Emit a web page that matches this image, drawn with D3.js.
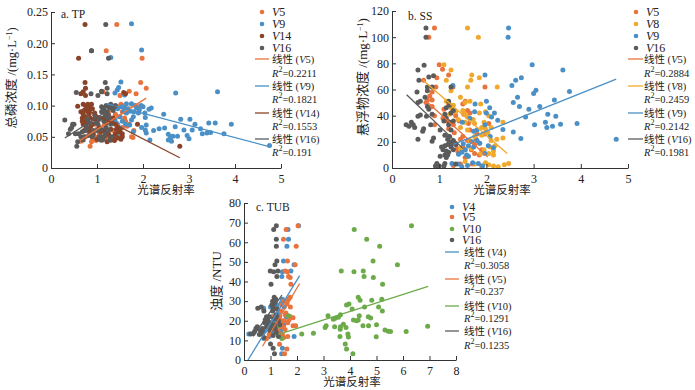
<!DOCTYPE html>
<html>
<head>
<meta charset="utf-8">
<script src="https://cdn.jsdelivr.net/npm/d3@7"></script>
<style>
  body { margin: 0; background: #fff; }
  text { font-family: "Liberation Serif", "Noto Sans CJK SC", serif; fill: #222; }
</style>
</head>
<body>
<div id="drawing_region"></div>
<script>
// panel a: TP
const tpV5 = [[1.43,.23],[1.2,.188],[1.98,.176],[1.95,.137],[2.07,.128],[1.7,.123],[1.85,.119],[1.13,.122],[1.5,.116],[.85,.035],[1.9,.098],[1.75,.102],[1.6,.1],[1.45,.098],[1.55,.09],[1.4,.086],[1.3,.08],[1.25,.075],[1.6,.08],[1.7,.07],[1.45,.07],[1.55,.065],[1.35,.06],[1.2,.06],[1.05,.055],[.95,.05],[.9,.047],[.85,.055],[.75,.05],[.65,.043],[1.0,.062],[1.1,.045],[1.18,.048],[1.3,.045],[1.4,.048],[1.5,.052],[1.75,.05],[1.65,.067],[1.8,.06],[.8,.06],[.95,.07],[1.15,.08],[1.35,.095],[1.25,.09],[1.78,.049],[1.62,.075],[1.48,.082],[.98,.044],[.88,.042],[1.03,.05],[1.15,.068],[1.52,.102]];
const tpV9 = [[1.75,.231],[1.97,.189],[1.3,.177],[1.52,.138],[1.47,.129],[1.44,.125],[1.39,.12],[1.6,.117],[2.71,.12],[3.62,.122],[2.45,.086],[2.82,.078],[3.02,.078],[3.13,.07],[3.25,.063],[3.43,.072],[3.57,.072],[3.92,.07],[3.76,.055],[4.75,.036],[2.89,.061],[3.07,.061],[3.29,.055],[3.39,.056],[3.47,.057],[2.23,.06],[2.35,.063],[2.47,.064],[2.7,.066],[2.55,.054],[2.6,.05],[2.55,.045],[2.62,.043],[2.65,.051],[2.75,.051],[2.96,.052],[3,.047],[2.15,.045],[2.07,.056],[1.97,.065],[2.05,.061],[2.07,.069],[2.18,.096],[2.13,.094],[2,.098],[2.04,.088],[2.05,.081],[1.9,.088],[1.75,.103],[1.64,.103],[1.86,.096],[1.79,.082],[1.79,.058],[1.71,.069],[1.75,.077],[1.46,.05],[1.5,.064],[1.5,.082],[1.53,.098],[1.64,.088],[1.39,.077],[1.57,.09],[1.42,.072],[1.8,.09],[1.68,.095],[1.45,.095],[1.83,.1],[1.72,.091],[1.92,.093],[1.6,.096],[1.55,.075],[1.62,.07],[1.48,.058],[1.96,.1]];
const tpV14 = [[.74,.23],[.6,.176],[.88,.188],[.74,.137],[.75,.128],[.7,.122],[.65,.119],[.75,.116],[1.1,.122],[1.58,.121],[1.62,.119],[.58,.099],[.7,.102],[.75,.1],[.8,.102],[.85,.098],[.65,.09],[.72,.092],[.8,.09],[.9,.095],[.95,.088],[.68,.08],[.75,.082],[.85,.08],[.7,.07],[.78,.072],[.9,.07],[1,.075],[.72,.06],[.82,.06],[1.05,.065],[1.35,.08],[1.4,.07],[1.45,.065],[1.3,.062],[1.5,.06],[1.55,.055],[1.4,.055],[1.25,.055],[1.35,.05],[1.45,.048],[1.55,.05],[1.3,.045],[1.22,.042],[1.1,.05],[1,.046],[1.88,.07],[2.8,.035],[1.15,.06],[1.2,.072],[.92,.055],[.98,.082],[.78,.096],[.84,.093],[.88,.102],[.7,.086],[.77,.076],[.83,.087],[.93,.078],[.68,.075],[.76,.066],[.86,.066],[1.08,.058],[1.28,.05],[1.38,.044],[1.48,.058],[1.42,.062],[1.33,.072],[1.18,.052],[1.52,.046]];
const tpV16 = [[1.19,.23],[.88,.188],[1.25,.176],[1.18,.137],[.55,.121],[.87,.119],[1.22,.128],[1.1,.123],[1.22,.119],[1.02,.116],[.3,.077],[.38,.055],[.42,.062],[.45,.065],[.47,.07],[.5,.07],[.53,.055],[.56,.035],[.58,.042],[.6,.055],[.65,.05],[.7,.045],[.72,.05],[.75,.06],[.78,.065],[.8,.078],[.85,.072],[.88,.055],[.9,.05],[.92,.06],[.95,.085],[1,.06],[1.02,.07],[1.05,.05],[1.08,.045],[1.1,.09],[1.1,.098],[1.12,.08],[1.15,.075],[1.15,.095],[1.18,.055],[1.2,.065],[1.2,.1],[1.22,.09],[1.25,.085],[1.25,.098],[1.28,.1],[1.3,.102],[1.3,.07],[1.32,.05],[1.35,.092],[1.38,.098],[1.4,.1],[1.12,.045],[1.28,.045],[1.18,.086],[1.13,.092],[1.05,.078],[.98,.072],[1.08,.062],[.82,.052],[.68,.058],[1.24,.06],[1.15,.05],[1.32,.096],[1.27,.078],[1.2,.08]];

// panel b: SS
const ssV5 = [[.9,107],[.78,100],[1,79],[1.07,75.5],[1.2,71],[.67,67],[.95,69],[.93,62],[1.29,62],[1.97,62],[.85,58],[.8,55],[.85,52],[.75,52],[.72,50],[.85,47],[1.1,45],[1.25,42],[.9,40],[1.35,40],[1.5,49],[1.55,51],[1.6,44],[1.65,42],[.9,33],[1.2,30],[1.3,33],[1.5,24],[1.65,29],[1.8,26],[2.05,34],[1.97,26],[1.2,24],[1.35,19],[1.5,16],[1.6,21],[1.75,18],[1.9,14],[1.85,10],[1.4,12],[1.55,8],[1.75,11],[1.3,2],[1.45,3],[1.7,3],[1.9,1.5],[1.55,14],[1.08,38],[1.18,36],[1.42,36],[1.32,27],[1.45,22],[1.68,14],[1.6,9],[1.38,15],[1.78,22],[1.62,34],[1.52,41],[1.2,49]];
const ssV8 = [[1.6,107],[1.83,100],[1.1,79],[1.25,75],[1.69,71],[1.85,69],[1.67,67],[1.15,67],[1.6,62],[2.23,62],[1.25,59],[1.15,51],[1.45,54],[1.55,50],[1.65,51],[1.88,49],[1.25,46],[1.35,43],[1.55,41],[1.6,39],[1.85,42],[1.98,43],[2.05,40],[1.4,37],[1.55,35],[1.75,34],[1.95,35],[2.1,31],[2.35,35],[1.8,29],[2.03,27],[2.35,23],[1.9,25],[2.1,21],[1.65,21],[1.75,24],[2.15,13],[2.15,10],[2.05,11],[1.85,19],[1.95,14],[1.98,4],[2.05,2.5],[2.15,1.5],[2.25,1],[2.38,2.5],[2.47,3.5],[1.75,3],[1.55,5],[1.45,15],[1.3,48],[1.22,41],[1.45,31],[1.6,29],[1.72,37],[1.98,30],[2.08,16],[2.18,17],[1.88,11],[1.68,15],[1.9,31],[2.22,22],[1.5,44]];
const ssV9 = [[2.47,107],[2.46,100],[2.97,79],[3.62,75],[2.74,69],[2.62,67],[2.54,63],[1.97,71],[1.29,63],[3.05,59.5],[3,57],[3.76,58.5],[2.66,54],[2.57,50],[2.7,47],[2.9,45],[2.83,39],[3.13,47],[3.44,52],[3.3,41],[3.47,39.5],[3.02,33],[3.25,35],[3.28,31],[3.4,32],[3.57,33.5],[3.92,34],[4.75,22],[2.73,22.5],[2.57,27.5],[2.35,29.5],[2.24,36.5],[2.17,42],[2.11,39],[2,42],[2.07,46],[2,51],[1.76,49],[1.75,43],[1.65,38],[1.49,35],[1.97,33],[2.08,24],[2.15,15.5],[2.04,17],[1.97,11],[1.8,21],[1.69,20],[1.73,16],[1.62,9],[1.51,18.5],[1.41,10.5],[1.48,12],[1.27,3.5],[1.4,3],[1.71,4],[1.83,3.5],[1.92,1.5],[1.6,2],[1.48,1],[1.73,28],[1.8,29],[1.86,19],[1.58,10],[1.55,14],[1.62,17]];
const ssV16 = [[.72,107],[.72,100],[.68,78.5],[.55,75],[.57,67],[.78,69.5],[.88,70.5],[.85,62],[.75,62],[.75,59],[.53,58],[.7,54],[.55,50],[.6,51],[.75,47],[.78,45],[.6,40.5],[.55,39.5],[.73,39.5],[.85,41],[.3,33],[.36,32],[.41,35],[.45,33],[.48,31],[.65,28],[.67,30],[.82,33],[.55,22],[.85,20.5],[.88,23],[1.02,29],[1.1,36],[1.12,41],[1.15,38],[1.15,46],[1.2,51],[1.22,48],[1.25,42],[1.3,44],[1.22,35],[1.3,36],[1.25,29],[1.12,25],[1.18,22],[1.22,24],[1.3,21],[1.35,18],[1.05,16],[1.12,17],[1.18,18],[1.25,16],[1.3,14],[1.02,9],[1.12,10],[1.2,12],[1.15,13],[.92,1.5],[.95,3.5],[1,1.5],[1.1,1.5],[1.12,3.5],[1.35,3],[1.08,14],[1.15,8],[1.28,19],[1.2,33],[1.25,62],[1.18,10],[1.22,20]];

// panel c: TUB
const tubV4 = [[2.06,68.4],[1.66,66.5],[1.68,61.5],[1.62,58],[1.49,50.5],[1.89,48.5],[1.77,45.3],[1.45,45],[1.43,42.5],[1.89,12],[.18,13.3],[.74,26.4],[1.0,27],[1.45,31],[1.4,29],[1.3,24],[1.05,22],[1.15,20],[1.35,19],[.95,17],[.8,15],[.75,11],[.95,12],[1.1,14],[1.2,16],[1.5,18],[1.45,6],[1.42,3.2],[1.3,13],[1.6,22],[1.25,28],[1.08,18],[1.38,15],[.88,20],[1.52,27]];
const tubV5 = [[2.04,68.4],[1.59,66.5],[1.49,61.5],[1.97,58],[1.64,50.5],[1.93,48.5],[1.55,45.3],[1.64,45],[1.68,42.5],[1.74,42],[1.77,38.6],[1.34,8],[1.62,5.6],[1.53,3.2],[1.74,32],[1.68,31],[1.5,30],[1.62,28.5],[1.75,27],[1.2,26],[1.4,25],[1.55,23],[1.75,22],[1.85,21.5],[1.3,21],[1.45,20],[1.65,19],[1.85,17.5],[1.95,17.5],[1.2,18],[1.4,17],[1.55,15.5],[1.3,14],[1.45,13],[1.65,12],[1.5,11.5],[.95,13],[1.08,16],[.85,11],[1.58,24],[1.35,22],[1.48,17],[1.62,29.5],[1.38,19],[1.25,15],[1.52,20],[1.7,20.5],[1.12,22],[1.42,28]];
const tubV10 = [[6.32,68.4],[4.16,66.5],[4.63,61.5],[5.12,58],[4.87,50.5],[5.79,48.5],[3.67,45.3],[4.15,45],[4.5,45.3],[4.53,42.5],[4.88,42],[5.23,38.6],[4.31,32],[4.38,30.5],[4.82,30.5],[5.2,31],[3.96,28.5],[3.87,28],[4.55,27],[5.08,27],[5.22,25],[4.08,26],[3.17,22.5],[3.37,20.8],[3.44,21.3],[3.56,21.8],[3.64,23],[4.13,20.4],[4.25,20],[4.31,20.4],[4.35,22.5],[4.69,22],[4.78,21.4],[3.1,17.4],[3.06,16.5],[3.42,16.9],[3.64,17],[3.75,18.2],[3.63,15.7],[3.85,16.5],[4.49,17.4],[4.7,17.5],[5,17.9],[6.93,17.2],[5.32,15.3],[5.44,14.6],[5.53,14.5],[6.12,14.5],[2.62,13.6],[2.18,13.3],[3.92,13.3],[3.62,12],[3.94,11.7],[4.99,11.9],[3.82,8.2],[3.87,5.6],[4.11,3.2],[1.43,11],[1.3,17.5],[1.68,22.6]];
const tubV16 = [[1.22,68.4],[1.12,66.5],[1.22,61.5],[1.22,58],[1.24,50.5],[1.17,48.5],[.99,45.3],[1.12,45],[1.28,45.3],[1.24,42.5],[1.02,38.6],[1.14,32],[1.2,31],[1.08,30],[1.15,29],[1.05,28],[.52,26.4],[.65,27],[.75,25],[.25,13.3],[.35,13.5],[.4,14.5],[.45,16],[.5,17],[.62,15],[.68,13.5],[.72,14],[.85,22],[.9,20],[.92,18],[1,19],[1.05,17],[1.12,21],[1.2,23],[1.25,22],[1.3,20],[1.35,18],[1.18,16],[1.02,15.5],[.85,17],[.78,19],[.75,11.5],[1.1,12.5],[1.3,12],[1,8.2],[1.1,6],[1.15,3.2],[1.25,26],[.95,22],[1.08,25],[.8,20.5],[.98,15],[1.15,18],[1.22,14],[.7,16],[.58,13],[1.1,27]];

// trend lines
const tpLines = [[[.65,.045],[2.07,.112]],[[1.2,.103],[4.76,.034]],[[.7,.096],[2.8,.0165]],[[.3,.048],[1.4,.1]]];
const ssLines = [[[.7,52],[2.03,8.4]],[[.66,67],[2.44,11]],[[1.3,18],[4.75,68]],[[.31,56],[1.5,15]]];
const tubLines = [[[.15,0],[2.1,43]],[[.7,7],[2.1,39]],[[1.3,13],[6.95,37.5]],[[.34,12],[1.43,33]]];

const tpNames = ["5","9","14","16"];
const ssNames = ["5","8","9","16"];
const tubNames = ["4","5","10","16"];
const tpR2 = ["0.2211","0.1821","0.1553","0.191"];
const ssR2 = ["0.2884","0.2459","0.2142","0.1981"];
const tubR2 = ["0.3058","0.237","0.1291","0.1235"];

const tpTicksY = [0,.05,.1,.15,.2,.25];
const ssTicksY = [0,20,40,60,80,100,120];
const tubTicksY = [0,10,20,30,40,50,60,70,80];
const ticks5 = [0,1,2,3,4,5];
const ticks8 = [0,1,2,3,4,5,6,7,8];

const orange = "#e8733c", blue = "#4a90c6", brown = "#8a4328", gray = "#5b5b5b", amber = "#f0a92c", green = "#6dab4a";

const svg = d3.select("#drawing_region").append("svg")
    .attr("width", 695)
    .attr("height", 390);

function drawPanel(cfg) {
    const xscale = d3.scaleLinear().domain(cfg.xdomain).range([cfg.x0, cfg.x1]);
    const yscale = d3.scaleLinear().domain(cfg.ydomain).range([cfg.y0, cfg.y1]);

    const g = svg.append("g");

    // dots first, trend lines over them
    cfg.series.forEach((s, i) => {
        g.append("g").selectAll("circle")
            .data(s)
            .join("circle")
            .attr("cx", d => xscale(d[0]))
            .attr("cy", d => yscale(d[1]))
            .attr("r", 2.5)
            .attr("fill", cfg.colors[i]);
    });
    const line = d3.line().x(d => xscale(d[0])).y(d => yscale(d[1]));
    cfg.lines.forEach((l, i) => {
        g.append("path")
            .attr("d", line(l))
            .attr("fill", "none")
            .attr("stroke", cfg.colors[i])
            .attr("stroke-width", 1.3);
    });

    const xaxis = d3.axisBottom(xscale).tickValues(cfg.xticks).tickSizeInner(-4).tickSizeOuter(0).tickPadding(6).tickFormat(d3.format("d"));
    const yaxis = d3.axisLeft(yscale).tickValues(cfg.yticks).tickSizeInner(-4).tickSizeOuter(0).tickPadding(3).tickFormat(cfg.yformat);
    const gx = g.append("g").attr("transform", `translate(0,${cfg.y0})`).call(xaxis);
    const gy = g.append("g").attr("transform", `translate(${cfg.x0},0)`).call(yaxis);
    [gx, gy].forEach(a => {
        a.selectAll("path, line").attr("stroke", "#333");
        a.selectAll("text").attr("font-size", 12);
    });

    g.append("text").attr("x", cfg.titlePos[0]).attr("y", cfg.titlePos[1]).attr("font-size", 11.5).text(cfg.title);
    g.append("text").attr("x", cfg.xlabelPos[0]).attr("y", cfg.xlabelPos[1]).attr("text-anchor", "middle").attr("font-size", 11.5).text("光谱反射率");

    const yl = g.append("text")
        .attr("transform", `translate(${cfg.ylabelPos[0]},${cfg.ylabelPos[1]}) rotate(-90)`)
        .attr("text-anchor", "middle")
        .attr("font-size", cfg.ylabelSize);
    if (cfg.unitSup) {
        yl.append("tspan").text(cfg.ylabel);
        yl.append("tspan").attr("dy", -4).attr("font-size", 8).text("−1");
        yl.append("tspan").attr("dy", 4).text(")");
    } else {
        yl.text(cfg.ylabel);
    }

    // legend
    const lg = cfg.legend;
    cfg.names.forEach((name, i) => {
        g.append("circle").attr("cx", lg.dotX).attr("cy", lg.dotY[i]).attr("r", 2.3).attr("fill", cfg.colors[i]);
        const t = g.append("text").attr("x", lg.dotX + 10).attr("y", lg.dotY[i] + 4).attr("font-size", 12);
        t.append("tspan").attr("font-style", "italic").text("V");
        t.append("tspan").text(name);

        g.append("line").attr("x1", lg.lineX[0]).attr("x2", lg.lineX[1])
            .attr("y1", lg.lineY[i]).attr("y2", lg.lineY[i])
            .attr("stroke", cfg.colors[i]).attr("stroke-width", 1.3);
        const t2 = g.append("text").attr("x", lg.textX).attr("y", lg.lineY[i] + 4).attr("font-size", 10.5);
        t2.append("tspan").text("线性 (");
        t2.append("tspan").attr("font-style", "italic").text("V");
        t2.append("tspan").text(name + ")");
        const t3 = g.append("text").attr("x", lg.textX).attr("y", lg.r2Y[i] + 4).attr("font-size", 10.5);
        t3.append("tspan").attr("font-style", "italic").text("R");
        t3.append("tspan").attr("dy", -5).attr("font-size", 8).text("2");
        t3.append("tspan").attr("dy", 5).text("=" + cfg.r2[i]);
    });
}

drawPanel({
    x0: 51, x1: 281, y0: 168, y1: 12,
    xdomain: [0, 5], ydomain: [0, .25],
    xticks: ticks5, yticks: tpTicksY,
    yformat: d => d === 0 ? "0" : d3.format(".2f")(d),
    series: [tpV5, tpV9, tpV14, tpV16], lines: tpLines,
    colors: [orange, blue, brown, gray],
    names: tpNames, r2: tpR2,
    title: "a. TP", titlePos: [61, 18],
    xlabelPos: [166, 194],
    ylabel: "总磷浓度 /(mg·L", unitSup: true, ylabelPos: [16, 78], ylabelSize: 12.5,
    legend: { dotX: 262, dotY: [12, 24, 36, 48], lineX: [255, 269], lineY: [59, 86, 113, 139], textX: 272, r2Y: [73, 99, 126, 152] }
});

drawPanel({
    x0: 392, x1: 628, y0: 168, y1: 11,
    xdomain: [0, 5], ydomain: [0, 120],
    xticks: ticks5, yticks: ssTicksY,
    yformat: d3.format("d"),
    series: [ssV5, ssV8, ssV9, ssV16], lines: ssLines,
    colors: [orange, amber, blue, gray],
    names: ssNames, r2: ssR2,
    title: "b. SS", titlePos: [408, 20],
    xlabelPos: [502, 194],
    ylabel: "悬浮物浓度 /(mg·L", unitSup: true, ylabelPos: [367, 77], ylabelSize: 13,
    legend: { dotX: 636, dotY: [12, 24, 36, 48], lineX: [628, 643], lineY: [59, 86, 113, 139], textX: 644, r2Y: [73, 99, 126, 152] }
});

drawPanel({
    x0: 244, x1: 456, y0: 360, y1: 203,
    xdomain: [0, 8], ydomain: [0, 80],
    xticks: ticks8, yticks: tubTicksY,
    yformat: d3.format("d"),
    series: [tubV4, tubV5, tubV10, tubV16], lines: tubLines,
    colors: [blue, orange, green, gray],
    names: tubNames, r2: tubR2,
    title: "c. TUB", titlePos: [256, 211],
    xlabelPos: [352, 386],
    ylabel: "浊度 /NTU", unitSup: false, ylabelPos: [221, 281], ylabelSize: 13,
    legend: { dotX: 452, dotY: [207, 217, 229, 240], lineX: [445, 459], lineY: [252, 279, 306, 331], textX: 464, r2Y: [265, 291, 318, 345] }
});
</script>
</body>
</html>
